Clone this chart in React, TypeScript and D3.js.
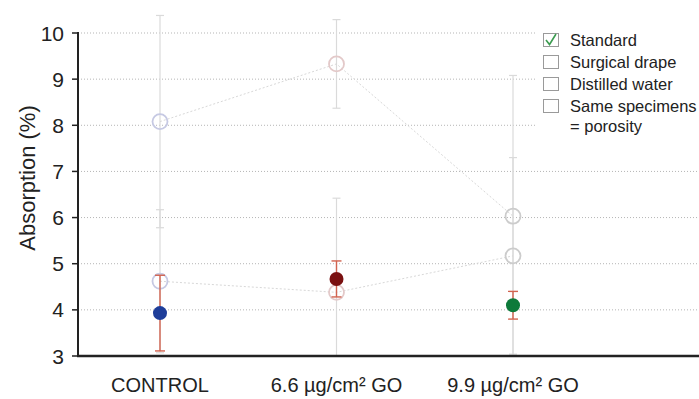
import React from "react";
import * as d3 from "d3";

const categories = ["CONTROL", "6.6 µg/cm² GO", "9.9 µg/cm² GO"];
const yTicks = [3, 4, 5, 6, 7, 8, 9, 10];

const standardMean = [3.93, 4.67, 4.1];
const standardSd = [0.82, 0.39, 0.3];
const drapeMean = [8.08, 9.33, 6.03];
const drapeSd = [2.3, 0.96, 3.05];
const waterMean = [4.62, 4.38, 5.17];
const waterSd = [1.55, 2.04, 2.13];

const legendItems = ["Standard", "Surgical drape", "Distilled water", "Same specimens"];
const legendChecked = [true, false, false, false];

const solidColors = ["#1e3d99", "#7a1010", "#0d7a3a"];
const faintColors = ["#c6c9e3", "#e3c9c9", "#cccccc"];

const W = 699;
const H = 399;
const left = 78;
const top = 33;
const bottom = 356;

export default function App() {
  const x = d3.scalePoint<string>().domain(categories).range([160, 513]);
  const y = d3.scaleLinear().domain([3, 10]).range([bottom, top]);
  const line = d3
    .line<number>()
    .x((_, i) => x(categories[i]) as number)
    .y((d) => y(d));

  const faint = [
    { mean: drapeMean, sd: drapeSd },
    { mean: waterMean, sd: waterSd },
  ];

  const font = "'Liberation Sans', Arial, sans-serif";

  return (
    <div style={{ position: "absolute", left: 0, top: 0 }}>
      <svg width={W} height={H} style={{ fontFamily: font, display: "block" }}>
        <defs>
          <clipPath id="plot">
            <rect x={left} y={0} width={W - left} height={bottom} />
          </clipPath>
        </defs>
        <rect width={W} height={H} fill="#fff" />

        {/* grid */}
        {yTicks.slice(1).map((t) => (
          <line
            key={t}
            x1={left}
            x2={W}
            y1={y(t)}
            y2={y(t)}
            stroke="#b5b5b5"
            strokeWidth={1}
            strokeDasharray="1,2"
          />
        ))}

        <g clipPath="url(#plot)">
          {/* faint error bars */}
          {faint.map((s, si) =>
            s.mean.map((m, i) => {
              const cx = x(categories[i]) as number;
              const hi = y(m + s.sd[i]);
              const lo = y(m - s.sd[i]);
              return (
                <g key={si + "-" + i} stroke="#dadada" strokeWidth={1.2}>
                  <line x1={cx} x2={cx} y1={hi} y2={lo} />
                  <line x1={cx - 4} x2={cx + 4} y1={hi} y2={hi} />
                  <line x1={cx - 4} x2={cx + 4} y1={lo} y2={lo} />
                </g>
              );
            })
          )}
          {/* faint connecting lines */}
          {faint.map((s, si) => (
            <path
              key={si}
              d={line(s.mean) || ""}
              fill="none"
              stroke="#d8d8d8"
              strokeWidth={1}
              strokeDasharray="2,2"
            />
          ))}
          {/* faint points */}
          {faint.map((s, si) =>
            s.mean.map((m, i) => (
              <circle
                key={si + "-" + i}
                cx={x(categories[i]) as number}
                cy={y(m)}
                r={7.5}
                fill="none"
                stroke={faintColors[i]}
                strokeWidth={1.8}
              />
            ))
          )}
          {/* standard error bars */}
          {standardMean.map((m, i) => {
            const cx = x(categories[i]) as number;
            const hi = y(m + standardSd[i]);
            const lo = y(m - standardSd[i]);
            return (
              <g key={i} stroke="#d2634f" strokeWidth={1.4}>
                <line x1={cx} x2={cx} y1={hi} y2={lo} />
                <line x1={cx - 5} x2={cx + 5} y1={hi} y2={hi} />
                <line x1={cx - 5} x2={cx + 5} y1={lo} y2={lo} />
              </g>
            );
          })}
          {standardMean.map((m, i) => (
            <circle
              key={i}
              cx={x(categories[i]) as number}
              cy={y(m)}
              r={7}
              fill={solidColors[i]}
            />
          ))}
        </g>

        {/* axes */}
        <line x1={left} x2={left} y1={top - 1} y2={bottom} stroke="#222" strokeWidth={2} />
        <line x1={left - 1} x2={W} y1={bottom} y2={bottom} stroke="#222" strokeWidth={2.5} />
        {yTicks.map((t) => (
          <g key={t}>
            <line x1={left - 6} x2={left} y1={y(t)} y2={y(t)} stroke="#222" strokeWidth={1.5} />
            <text
              x={64}
              y={y(t)}
              dy="0.36em"
              textAnchor="end"
              fontSize={21}
              fill="#222"
            >
              {t}
            </text>
          </g>
        ))}
        <text
          transform={`translate(35,178) rotate(-90)`}
          textAnchor="middle"
          fontSize={22}
          fill="#222"
        >
          Absorption (%)
        </text>

        {categories.map((c) => (
          <text
            key={c}
            x={x(c) as number}
            y={392}
            textAnchor="middle"
            fontSize={20}
            fill="#222"
          >
            {c}
          </text>
        ))}

        {/* legend */}
        <rect x={536} y={27} width={W - 536} height={112} fill="#fff" />
        {legendItems.map((name, i) => {
          const by = 46 + i * 22;
          return (
            <g key={name}>
              <rect
                x={543.5}
                y={by - 12.5}
                width={15}
                height={13}
                fill="#fff"
                stroke="#9a9a9a"
                strokeWidth={1}
              />
              {legendChecked[i] && (
                <path
                  d={`M${546},${by - 6} L${549.5},${by - 1.5} L${556},${by - 12}`}
                  fill="none"
                  stroke="#3c9c50"
                  strokeWidth={1.6}
                />
              )}
              <text x={570} y={by} fontSize={16.5} fill="#222">
                {name}
              </text>
            </g>
          );
        })}
        <text x={570} y={46 + 4 * 22 - 2} fontSize={16.5} fill="#222">
          = porosity
        </text>
      </svg>
    </div>
  );
}
